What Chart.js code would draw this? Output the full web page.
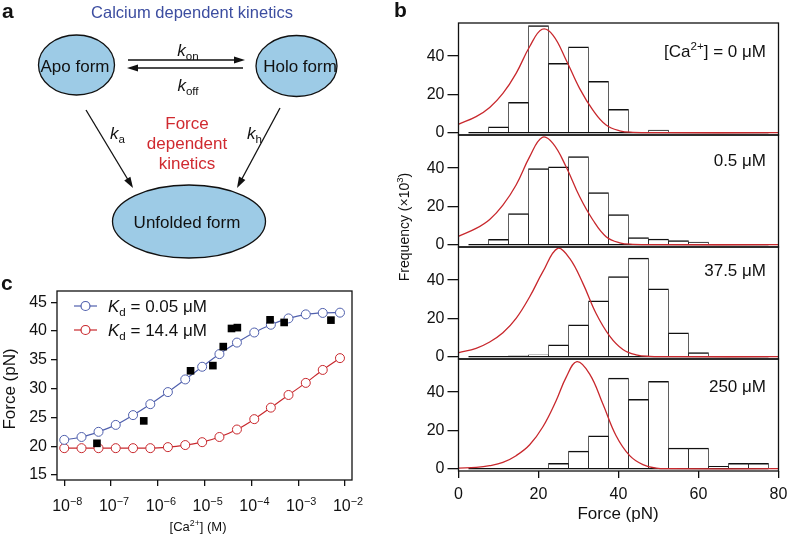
<!DOCTYPE html>
<html>
<head>
<meta charset="utf-8">
<script src="https://cdn.jsdelivr.net/npm/chart.js@4.4.1/dist/chart.umd.min.js"></script>
<style>
  body { margin: 0; background: #fff; }
  #wrap { position: relative; width: 788px; height: 539px; }
  #wrap canvas { position: absolute; left: 0; top: 0; }
</style>
</head>
<body>
<div id="wrap">
  <canvas id="chartC" width="788" height="539"></canvas>
  <canvas id="hist0" width="788" height="539"></canvas>
  <canvas id="hist1" width="788" height="539"></canvas>
  <canvas id="hist2" width="788" height="539"></canvas>
  <canvas id="hist3" width="788" height="539"></canvas>
</div>
<script>
const FONT = '"Liberation Sans", Arial, Helvetica, sans-serif';
const W = 788, H = 539;
const INK = '#111';
const RED = '#c8282d';
const BLUE = '#5060ad';

// ---- panel c: force vs [Ca2+] ----
const caFit = [1e-8, 2.34e-8, 5.4e-8, 1.26e-7, 2.95e-7, 6.9e-7, 1.64e-6, 3.85e-6, 8.85e-6,
  2.07e-5, 4.9e-5, 1.15e-4, 2.6e-4, 6.2e-4, 1.45e-3, 3.34e-3, 7.8e-3];
const forceKd005 = [21.1, 21.6, 22.5, 23.7, 25.4, 27.3, 29.4, 31.6, 33.8,
  36.0, 38.0, 39.75, 41.1, 42.2, 42.9, 43.15, 43.2];
const forceKd144 = [19.66, 19.66, 19.66, 19.66, 19.66, 19.66, 19.84, 20.2, 20.7,
  21.6, 22.9, 24.7, 26.7, 28.9, 31.0, 33.25, 35.3];
const caExp = [5e-8, 5e-7, 5e-6, 1.5e-5, 2.5e-5, 3.75e-5, 5e-5, 2.5e-4, 5e-4, 5e-3];
const forceExp = [20.5, 24.4, 33.1, 34.0, 37.3, 40.45, 40.6, 41.95, 41.5, 41.9];
const caTickExp = [-8, -7, -6, -5, -4, -3, -2];
const forceTicks = [15, 20, 25, 30, 35, 40, 45];
const legendKd = ['0.05', '14.4'];

// ---- panel b: unfolding force histograms ----
const binCenters = [5, 10, 15, 20, 25, 30, 35, 40, 45, 50, 55, 60, 65, 70, 75];
const concLabels = ['0', '0.5', '37.5', '250'];
const freqCa0   = [0, 3.1, 15.8, 55.9, 36.2, 44.9, 26.8, 12.2, 0, 1.4, 0, 0, 0, 0, 0];
const freqCa05  = [0, 2.8, 16.2, 39.7, 40.6, 46.0, 27.2, 15.7, 3.7, 3.0, 2.1, 1.4, 0, 0, 0];
const freqCa375 = [0, 0, 0.5, 1.0, 6.2, 16.7, 29.2, 41.8, 51.5, 35.5, 12.5, 2.1, 0, 0, 0];
const freqCa250 = [0, 0, 0, 0, 2.8, 9.2, 17.2, 47.3, 36.2, 45.6, 10.8, 10.8, 1.2, 2.8, 2.8];

const fitForceCa0  = [0.1, 4.4, 7.8, 11.1, 14.4, 17.8, 20.9, 23.6, 26.9, 30.3, 33.6, 36.9, 40.3, 43.6, 50, 80];
const fitFreqCa0   = [4.5, 8.4, 13.2, 20.5, 31, 45, 54, 51, 38, 23, 11.8, 4, 1, 0.2, 0, 0];
const fitForceCa05 = [0.1, 4.4, 7.8, 11.1, 14.4, 17.8, 20.9, 23.6, 26.9, 30.3, 33.6, 36.9, 40.3, 43.6, 50, 80];
const fitFreqCa05  = [4.5, 8.5, 13.2, 20.7, 31.2, 46, 56, 52.9, 40.7, 25, 12.9, 4.2, 1, 0.2, 0, 0];
const fitForceCa375 = [0.1, 4.4, 7.8, 11.1, 14.4, 17.8, 21.1, 24.8, 27.8, 31.1, 34.4, 37.8, 41.1, 44.4, 47.8, 55, 80];
const fitFreqCa375  = [2.1, 4.4, 7.7, 12.5, 20, 31.3, 44.4, 56.6, 51.3, 38.3, 22.6, 10.8, 3.8, 1, 0.2, 0, 0];
const fitForceCa250 = [0.1, 4.4, 7.8, 11.1, 14.4, 17.8, 21.1, 24.4, 26.9, 29.6, 32.8, 36.1, 39.4, 42.8, 46.1, 49.4, 52.8, 80];
const fitFreqCa250  = [0.3, 0.7, 1.6, 3.3, 6.8, 12.5, 21.9, 35.5, 47.7, 55.9, 49.4, 33.8, 17.2, 6.8, 2.1, 0.3, 0, 0];
const freqTicks = [0, 20, 40];
const forceAxisTicks = [0, 20, 40, 60, 80];

// text with superscripts / subscripts / italics
function richText(ctx, parts, x, y, size, align, color) {
  const fontFor = m => {
    if (m === 'sup' || m === 'sub') return (size * 0.68).toFixed(1) + 'px ' + FONT;
    if (m === 'i') return 'italic ' + size + 'px ' + FONT;
    if (m === 'b') return 'bold ' + size + 'px ' + FONT;
    return size + 'px ' + FONT;
  };
  let total = 0;
  parts.forEach(([t, m]) => { ctx.font = fontFor(m); total += ctx.measureText(t).width; });
  let cx = align === 'right' ? x - total : align === 'center' ? x - total / 2 : x;
  ctx.fillStyle = color || INK;
  ctx.textAlign = 'left';
  ctx.textBaseline = 'alphabetic';
  parts.forEach(([t, m]) => {
    ctx.font = fontFor(m);
    const dy = m === 'sup' ? -size * 0.4 : m === 'sub' ? size * 0.22 : 0;
    ctx.fillText(t, cx, y + dy);
    cx += ctx.measureText(t).width;
  });
}

function rotatedText(ctx, parts, x, y, size) {
  ctx.save();
  ctx.translate(x, y);
  ctx.rotate(-Math.PI / 2);
  richText(ctx, parts, 0, 0, size, 'center');
  ctx.restore();
}

function arrow(ctx, x1, y1, x2, y2) {
  const a = Math.atan2(y2 - y1, x2 - x1), len = 11, hw = 3.6;
  ctx.beginPath();
  ctx.moveTo(x1, y1);
  ctx.lineTo(x2 - Math.cos(a) * len * 0.8, y2 - Math.sin(a) * len * 0.8);
  ctx.stroke();
  ctx.beginPath();
  ctx.moveTo(x2, y2);
  ctx.lineTo(x2 - Math.cos(a) * len - Math.sin(a) * hw, y2 - Math.sin(a) * len + Math.cos(a) * hw);
  ctx.lineTo(x2 - Math.cos(a) * len + Math.sin(a) * hw, y2 - Math.sin(a) * len - Math.cos(a) * hw);
  ctx.closePath();
  ctx.fill();
}

function ellipse(ctx, cx, cy, rx, ry) {
  ctx.beginPath();
  ctx.ellipse(cx, cy, rx, ry, 0, 0, Math.PI * 2);
  ctx.fillStyle = '#9dcbe6';
  ctx.fill();
  ctx.stroke();
}

// box around the plot area
const framePlugin = {
  id: 'frame',
  afterDatasetsDraw(chart) {
    const a = chart.chartArea, c = chart.ctx;
    c.save();
    c.strokeStyle = INK;
    c.lineWidth = 1.3;
    c.strokeRect(a.left, a.top, a.right - a.left, a.bottom - a.top);
    c.restore();
  }
};

// panel a scheme, panel letters and panel c texts
const textPlugin = {
  id: 'texts',
  afterDraw(chart) {
    const c = chart.ctx;
    c.save();
    richText(c, [['a', 'b']], 2, 18, 21, 'left');
    richText(c, [['b', 'b']], 394, 17, 21, 'left');
    richText(c, [['c', 'b']], 1, 290, 21, 'left');

    // scheme
    c.strokeStyle = INK;
    c.lineWidth = 1.3;
    ellipse(c, 76.5, 65, 38, 30);
    ellipse(c, 296.5, 66, 40.5, 30.5);
    ellipse(c, 189, 221.5, 76.5, 36.5);
    c.fillStyle = INK;
    arrow(c, 128, 60, 245, 60);
    arrow(c, 243, 68, 127, 68);
    arrow(c, 86, 110, 133, 188);
    arrow(c, 280, 108, 237, 188);
    richText(c, [['Calcium dependent kinetics', '']], 192, 17.5, 16.5, 'center', '#3c4da0');
    richText(c, [['Apo form', '']], 75, 71.5, 17, 'center');
    richText(c, [['Holo form', '']], 300, 71.5, 17, 'center');
    richText(c, [['Unfolded form', '']], 187, 228, 17, 'center');
    richText(c, [['k', 'i'], ['on', 'sub']], 188, 56, 17, 'center');
    richText(c, [['k', 'i'], ['off', 'sub']], 188, 91, 17, 'center');
    richText(c, [['k', 'i'], ['a', 'sub']], 110, 139, 17, 'left');
    richText(c, [['k', 'i'], ['h', 'sub']], 247, 139, 17, 'left');
    richText(c, [['Force', '']], 187, 129, 17, 'center', '#d02a30');
    richText(c, [['dependent', '']], 187, 149, 17, 'center', '#d02a30');
    richText(c, [['kinetics', '']], 187, 169, 17, 'center', '#d02a30');

    // panel c axis labels
    const xs = chart.scales.x;
    caTickExp.forEach(e => {
      richText(c, [['10', ''], ['\u2212' + (-e), 'sup']], xs.getPixelForValue(Math.pow(10, e)) + 3, 511, 16, 'center');
    });
    richText(c, [['[Ca', ''], ['2+', 'sup'], ['] (M)', '']], 198, 531, 13, 'center');
    rotatedText(c, [['Force (pN)', '']], 15, 389, 17);

    // legend
    const rows = [[306, BLUE, legendKd[0]], [330, RED, legendKd[1]]];
    rows.forEach(([y, col, kd]) => {
      c.strokeStyle = col;
      c.lineWidth = 1.2;
      c.beginPath(); c.moveTo(74, y); c.lineTo(97, y); c.stroke();
      c.beginPath(); c.arc(85.5, y, 4.5, 0, Math.PI * 2);
      c.fillStyle = '#fff'; c.fill(); c.stroke();
      richText(c, [['K', 'i'], ['d', 'sub'], [' = ' + kd + ' \u03bcM', '']], 108, y + 6, 17, 'left');
    });

    // panel b shared labels
    rotatedText(c, [['Frequency (\u00d710', ''], ['3', 'sup'], [')', '']], 409, 227, 14);
    richText(c, [['Force (pN)', '']], 618, 519, 17, 'center');
    c.restore();
  }
};

const baseOptions = () => ({
  responsive: false,
  animation: false,
  devicePixelRatio: 1,
  events: [],
  plugins: { legend: { display: false }, tooltip: { enabled: false } },
});

function axisY(min, max, ticks, width, tickLen, size, pad) {
  return {
    type: 'linear', position: 'left', min, max,
    border: { display: false },
    grid: { drawOnChartArea: false, drawTicks: true, tickLength: tickLen, color: INK, lineWidth: 1.3 },
    ticks: { font: { family: FONT, size }, color: INK, padding: pad, autoSkip: false },
    afterBuildTicks: s => { s.ticks = ticks.map(v => ({ value: v })); },
    afterFit: s => { s.width = width; s.paddingTop = 0; s.paddingBottom = 0; }
  };
}

function makeChart(id, area, yW, xH, config) {
  config.options.layout = {
    padding: { left: area.l - yW, top: area.t, right: W - area.r, bottom: H - area.b - xH }
  };
  return new Chart(document.getElementById(id), config);
}

// ---- panel c chart ----
const areaC = { l: 57, t: 291, r: 352, b: 480 };
const optsC = baseOptions();
optsC.scales = {
  x: {
    type: 'logarithmic', min: Math.pow(10, -8.134), max: Math.pow(10, -1.851),
    border: { display: false },
    grid: { drawOnChartArea: false, drawTicks: true, tickLength: 6, color: INK, lineWidth: 1.3 },
    ticks: { display: false },
    afterBuildTicks: s => { s.ticks = caTickExp.map(e => ({ value: Math.pow(10, e) })); },
    afterFit: s => { s.height = H - areaC.b; s.paddingLeft = 0; s.paddingRight = 0; }
  },
  y: axisY(14.13, 46.96, forceTicks, 57, 6, 16, 4)
};
makeChart('chartC', areaC, 57, H - areaC.b, {
  type: 'line',
  data: {
    datasets: [
      {
        label: 'data', data: caExp.map((x, i) => ({ x, y: forceExp[i] })),
        showLine: false, pointStyle: 'rect', pointRadius: 5.4, pointBackgroundColor: '#000',
        pointBorderWidth: 0, order: 0
      },
      {
        label: 'Kd = 0.05 uM', data: caFit.map((x, i) => ({ x, y: forceKd005[i] })),
        borderColor: BLUE, borderWidth: 1.2, cubicInterpolationMode: 'monotone',
        pointRadius: 4.5, pointBorderWidth: 1, pointBorderColor: BLUE, pointBackgroundColor: '#fff', order: 1
      },
      {
        label: 'Kd = 14.4 uM', data: caFit.map((x, i) => ({ x, y: forceKd144[i] })),
        borderColor: RED, borderWidth: 1.2, cubicInterpolationMode: 'monotone',
        pointRadius: 4.5, pointBorderWidth: 1, pointBorderColor: RED, pointBackgroundColor: '#fff', order: 2
      }
    ]
  },
  options: optsC,
  plugins: [framePlugin, textPlugin]
});

// ---- panel b charts ----
const histFreq = [freqCa0, freqCa05, freqCa375, freqCa250];
const fitForces = [fitForceCa0, fitForceCa05, fitForceCa375, fitForceCa250];
const fitFreqs = [fitFreqCa0, fitFreqCa05, fitFreqCa375, fitFreqCa250];
const panelTops = [23, 135, 247, 359];
const panelH = 112;
const labelBaselines = [57, 166, 276, 392];
const yMinB = -1.2, yMaxB = -1.2 + panelH / 1.915;

histFreq.forEach((freq, k) => {
  const last = k === histFreq.length - 1;
  const area = { l: 458.5, t: panelTops[k], r: 778.5, b: panelTops[k] + panelH };
  const xH = last ? H - area.b : 0;
  const opts = baseOptions();
  opts.scales = {
    x: {
      type: 'linear', min: 0, max: 80, offset: false, display: last,
      border: { display: false },
      grid: { offset: false, drawOnChartArea: false, drawTicks: true, tickLength: 7, color: INK, lineWidth: 1.3 },
      ticks: { font: { family: FONT, size: 16 }, color: INK, padding: 7, autoSkip: false, maxRotation: 0 },
      afterBuildTicks: s => { s.ticks = forceAxisTicks.map(v => ({ value: v })); },
      afterFit: s => { if (last) { s.height = xH; } s.paddingLeft = 0; s.paddingRight = 0; }
    },
    y: axisY(yMinB, yMaxB, freqTicks, 60, 11, 16, 3)
  };
  const labelPlugin = {
    id: 'concLabel',
    afterDraw(chart) {
      const parts = k === 0
        ? [['[Ca', ''], ['2+', 'sup'], ['] = ' + concLabels[k] + ' \u03bcM', '']]
        : [[concLabels[k] + ' \u03bcM', '']];
      richText(chart.ctx, parts, 766, labelBaselines[k], 17, 'right');
    }
  };
  makeChart('hist' + k, area, 60, xH, {
    type: 'bar',
    data: {
      datasets: [
        {
          type: 'line', label: 'fit',
          data: fitForces[k].map((x, i) => ({ x, y: fitFreqs[k][i] })),
          borderColor: RED, borderWidth: 1.3, pointRadius: 0, tension: 0.4, order: 0
        },
        {
          type: 'line', label: 'base',
          data: [{ x: binCenters[0] - 2.5, y: 0 }, { x: binCenters[binCenters.length - 1] + 2.5, y: 0 }],
          borderColor: INK, borderWidth: 1.3, pointRadius: 0, order: 1
        },
        {
          type: 'bar', label: 'counts',
          data: binCenters.map((x, i) => ({ x, y: freq[i] })),
          backgroundColor: '#fff', borderColor: INK,
          borderWidth: { top: 1.5, left: 0.8, right: 0.8, bottom: 0 }, borderSkipped: false,
          barPercentage: 1, categoryPercentage: 1, order: 2
        }
      ]
    },
    options: opts,
    plugins: [framePlugin, labelPlugin]
  });
});
</script>
</body>
</html>
